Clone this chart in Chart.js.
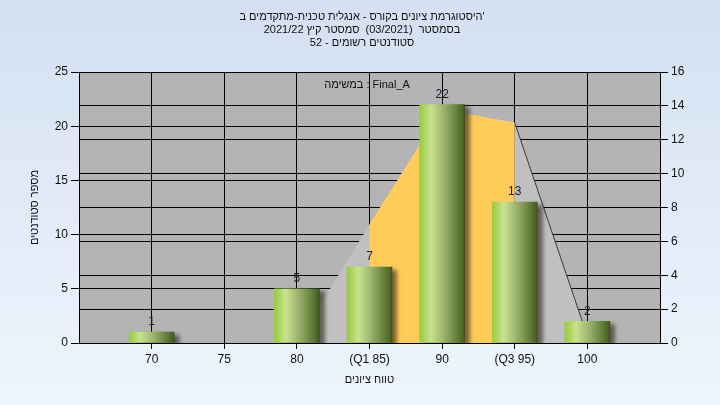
<!DOCTYPE html>
<html>
<head>
<meta charset="utf-8">
<script src="https://cdn.jsdelivr.net/npm/chart.js@4.4.1/dist/chart.umd.min.js"></script>
<style>
  html, body { margin: 0; padding: 0; }
  body {
    width: 720px;
    height: 405px;
    overflow: hidden;
    background: linear-gradient(#d4e0f2, #eef5fd);
  }
  #wrap { position: relative; width: 720px; height: 405px; }
</style>
</head>
<body>
<div id="wrap"><canvas id="histChart"></canvas></div>
<script>
// data
const titleLines = [
  "היסטוגרמת ציונים בקורס - אנגלית טכנית-מתקדמים ב'",
  "בסמסטר  (03/2021)  סמסטר קיץ 2021/22",
  "סטודנטים רשומים - 52"
];
const taskNote = "במשימה : Final_A";
const xTitle = "טווח ציונים";
const yTitle = "מספר סטודנטים";

const grades = [70, 75, 80, 85, 90, 95, 100];
const gradeLabels = ["70", "75", "80", "(Q1 85)", "90", "(Q3 95)", "100"];
const studentCounts = [1, 0, 5, 7, 22, 13, 2];

// background shape (min..max) and quartile band (Q1..Q3), right axis units
const rangeGrades = [80, 85, 90, 95, 100];
const rangeValues = [0, 7, 13.8, 13, 0.4];
const quartileGrades = [85, 90, 95];
const quartileValues = [7, 13.8, 13];

const xMin = 65, xMax = 105;
const leftMax = 25, leftStep = 5;
const rightMax = 16, rightStep = 2;

Chart.defaults.font.family = '"Liberation Sans", Arial, sans-serif';
Chart.defaults.font.size = 12;
Chart.defaults.color = '#111';

const toPoints = (xs, ys) => xs.map((x, i) => ({ x: x, y: ys[i] }));

const BAR_W = 45;

function barGradient(c) {
  const chart = c.chart;
  const xs = chart.scales.x;
  if (c.type !== 'data' || !xs || !chart.chartArea) return '#8fb048';
  if (!c.parsed.y) return 'rgba(0,0,0,0)';
  const cx = xs.getPixelForValue(c.parsed.x);
  const g = chart.ctx.createLinearGradient(cx - BAR_W / 2, 0, cx + BAR_W / 2, 0);
  g.addColorStop(0, '#98cb3c');
  g.addColorStop(0.25, '#c8e290');
  g.addColorStop(0.5, '#a2b972');
  g.addColorStop(0.75, '#728e48');
  g.addColorStop(0.96, '#4b6425');
  g.addColorStop(1, '#3c4f1e');
  return g;
}

const plotBackground = {
  id: 'plotBackground',
  beforeDraw(chart) {
    const a = chart.chartArea;
    const ctx = chart.ctx;
    ctx.save();
    ctx.fillStyle = '#b4b4b4';
    ctx.fillRect(a.left, a.top, a.right - a.left, a.bottom - a.top);
    ctx.restore();
  }
};

const barShadow = {
  id: 'barShadow',
  beforeDatasetDraw(chart, args) {
    if (args.meta.type !== 'bar') return;
    const ctx = chart.ctx;
    ctx.save();
    ctx.shadowColor = 'rgba(40, 30, 20, 0.6)';
    ctx.shadowOffsetX = 5;
    ctx.shadowOffsetY = 3;
    ctx.shadowBlur = 4;
  },
  afterDatasetDraw(chart, args) {
    if (args.meta.type !== 'bar') return;
    chart.ctx.restore();
  }
};

const valueLabels = {
  id: 'valueLabels',
  afterDatasetsDraw(chart) {
    const ctx = chart.ctx;
    chart.data.datasets.forEach((ds, i) => {
      const meta = chart.getDatasetMeta(i);
      if (meta.type !== 'bar') return;
      ctx.save();
      ctx.font = '12px "Liberation Sans", Arial, sans-serif';
      ctx.fillStyle = '#1a1a2e';
      ctx.textAlign = 'center';
      ctx.textBaseline = 'bottom';
      meta.data.forEach((bar, j) => {
        const v = studentCounts[j];
        if (!v) return;
        ctx.fillText(String(v), bar.x, bar.y - 4);
      });
      ctx.restore();
    });
  }
};

const headerText = {
  id: 'headerText',
  afterDraw(chart) {
    const ctx = chart.ctx;
    ctx.save();
    ctx.direction = 'ltr';
    ctx.font = '11px "Liberation Sans", Arial, sans-serif';
    ctx.fillStyle = '#111';
    ctx.textAlign = 'center';
    ctx.textBaseline = 'middle';
    titleLines.forEach((line, i) => ctx.fillText(line, 362, 17 + i * 13));
    ctx.fillText(taskNote, 367, 85);
    ctx.restore();
  }
};

new Chart(document.getElementById('histChart'), {
  type: 'bar',
  data: {
    datasets: [
      {
        type: 'bar',
        data: toPoints(grades, studentCounts),
        yAxisID: 'y',
        backgroundColor: barGradient,
        borderWidth: 0,
        barThickness: BAR_W,
        order: 0
      },
      {
        type: 'line',
        data: toPoints(quartileGrades, quartileValues),
        yAxisID: 'y2',
        fill: 'origin',
        backgroundColor: '#ffcc5a',
        borderWidth: 0,
        pointRadius: 0,
        tension: 0,
        order: 1
      },
      {
        type: 'line',
        data: toPoints(rangeGrades, rangeValues),
        yAxisID: 'y2',
        fill: 'origin',
        backgroundColor: '#c0c0c0',
        borderWidth: 1,
        borderColor: 'rgba(0,0,0,0)',
        segment: {
          borderColor: c => c.p0.parsed.x >= 95 ? '#3a3a3a' : 'rgba(0,0,0,0)'
        },
        pointRadius: 0,
        tension: 0,
        order: 2
      }
    ]
  },
  options: {
    responsive: true,
    maintainAspectRatio: false,
    animation: false,
    layout: { padding: { top: 72, left: 0, right: 0, bottom: 0 } },
    plugins: {
      legend: { display: false },
      tooltip: { enabled: false },
      title: { display: false }
    },
    scales: {
      x: {
        type: 'linear',
        min: xMin,
        max: xMax,
        offset: false,
        afterBuildTicks: s => { s.ticks = grades.map(v => ({ value: v })); },
        afterFit: s => { s.height = 62; },
        ticks: {
          autoSkip: false,
          maxRotation: 0,
          padding: 3,
          callback: v => gradeLabels[grades.indexOf(v)]
        },
        grid: { color: '#000', lineWidth: 1, tickLength: 6, offset: false },
        border: { color: '#000' },
        title: { display: true, text: xTitle, font: { size: 11 }, padding: { top: 0, bottom: 18 } }
      },
      y: {
        position: 'left',
        min: 0,
        max: leftMax,
        afterFit: s => { s.width = 79; },
        ticks: { stepSize: leftStep, padding: 3 },
        grid: { color: '#000', lineWidth: 1, tickLength: 8 },
        border: { color: '#000' },
        title: { display: true, text: yTitle, font: { size: 11 }, padding: { top: 28, bottom: 0 } }
      },
      y2: {
        position: 'right',
        min: 0,
        max: rightMax,
        afterFit: s => { s.width = 60; },
        ticks: { stepSize: rightStep, padding: 3 },
        grid: { color: '#000', lineWidth: 1, tickLength: 8 },
        border: { color: '#000' }
      }
    }
  },
  plugins: [plotBackground, barShadow, valueLabels, headerText]
});
</script>
</body>
</html>
